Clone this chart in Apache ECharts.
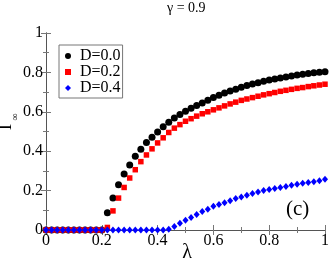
<!DOCTYPE html>
<html>
<head>
<meta charset="utf-8">
<script src="https://cdn.jsdelivr.net/npm/echarts@6/dist/echarts.min.js"></script>
<style>html,body{margin:0;padding:0;background:#fff;}#c{width:332px;height:263px;}</style>
</head>
<body>
<div id="c"></div>
<script>
var lambdaVals = [0.00,0.02,0.04,0.06,0.08,0.10,0.12,0.14,0.16,0.18,0.20,0.22,0.24,0.26,0.28,0.30,0.32,0.34,0.36,0.38,0.40,0.42,0.44,0.46,0.48,0.50,0.52,0.54,0.56,0.58,0.60,0.62,0.64,0.66,0.68,0.70,0.72,0.74,0.76,0.78,0.80,0.82,0.84,0.86,0.88,0.90,0.92,0.94,0.96,0.98,1.00];
var seriesNames = ['D=0.0','D=0.2','D=0.4'];
var d00 = [0,0,0,0,0,0,0,0,0,0,0,
  0.088,0.162,0.230,0.284,0.330,0.374,0.410,0.444,0.471,0.497,
  0.524,0.547,0.568,0.586,0.603,0.618,0.632,0.645,0.658,0.672,
  0.684,0.695,0.705,0.715,0.725,0.733,0.741,0.748,0.755,0.761,
  0.767,0.772,0.777,0.782,0.787,0.791,0.795,0.798,0.801,0.803];
var d02 = [0,0,0,0,0,0,0,0,0,0,0,
  0.013,0.097,0.162,0.216,0.264,0.306,0.347,0.381,0.412,0.442,
  0.468,0.495,0.517,0.535,0.552,0.565,0.578,0.590,0.600,0.610,
  0.620,0.630,0.640,0.649,0.658,0.665,0.672,0.679,0.686,0.692,
  0.698,0.704,0.709,0.714,0.719,0.723,0.728,0.732,0.736,0.740];
var d04 = [0,0,0,0,0,0,0,0,0,0,0,0,0,0,0,0,0,0,0,0,0,0,
  0.004,0.018,0.034,0.050,0.064,0.079,0.094,0.105,0.120,0.130,
  0.138,0.148,0.160,0.167,0.176,0.185,0.193,0.201,0.206,0.211,
  0.216,0.221,0.227,0.232,0.237,0.241,0.245,0.250,0.257];
var xTicks = ['0','0.2','0.4','0.6','0.8','1'];
var yTicks = ['0','0.2','0.4','0.6','0.8','1'];

function pairs(vals){ return vals.map(function(v,i){ return [lambdaVals[i], v]; }); }
var serif = 'Liberation Serif';
var chart = echarts.init(document.getElementById('c'), null, {renderer:'canvas'});
var baseAxis = {
  min:0, max:1, interval:0.2,
  axisLine:{show:true, lineStyle:{color:'#555', width:1}},
  axisTick:{show:true, inside:true, length:5, lineStyle:{color:'#777'}},
  minorTick:{show:true, splitNumber:2, length:3, lineStyle:{color:'#777'}},
  splitLine:{show:false}
};
chart.setOption({
  animation:false,
  backgroundColor:'#fff',
  textStyle:{fontFamily:serif},
  grid:{left:46, right:5, top:33, bottom:33},
  legend:{
    orient:'vertical', left:59, top:45,
    data:seriesNames,
    itemWidth:6, itemHeight:6, itemGap:0,
    padding:[3,2,2,6],
    borderColor:'#777', borderWidth:1,
    textStyle:{fontFamily:serif, fontSize:16, color:'#000', lineHeight:14, padding:[0,0,0,4]}
  },
  xAxis:[
    Object.assign({}, baseAxis, {type:'value', position:'bottom',
      axisLabel:{show:true, fontFamily:serif, fontSize:16, color:'#000', margin:3,
        formatter:function(v){ return xTicks[Math.round(v/0.2)]; }}}),
    Object.assign({}, baseAxis, {type:'value', position:'top', axisLabel:{show:false}})
  ],
  yAxis:[
    Object.assign({}, baseAxis, {type:'value', position:'left',
      axisLabel:{show:true, fontFamily:serif, fontSize:16, color:'#000', margin:3,
        formatter:function(v){ return yTicks[Math.round(v/0.2)]; }}}),
    Object.assign({}, baseAxis, {type:'value', position:'right', axisLabel:{show:false}})
  ],
  graphic:[
    {type:'text', left:167, top:1, style:{text:'γ = 0.9', font:'14px '+serif, fill:'#000'}},
    {type:'text', left:286, top:199, style:{text:'(c)', font:'21px '+serif, fill:'#000'}},
    {type:'text', x:187, y:253, style:{text:'λ', font:'20px '+serif, fill:'#000', align:'center', verticalAlign:'middle'}},
    {type:'text', x:6, y:127, rotation:Math.PI/2, style:{text:'I', font:'19px '+serif, fill:'#000', align:'center', verticalAlign:'middle'}},
    {type:'text', x:15, y:117, rotation:Math.PI/2, style:{text:'∞', font:'10px '+serif, fill:'#000', align:'center', verticalAlign:'middle'}}
  ],
  series:[
    {name:seriesNames[0], type:'scatter', symbol:'circle', symbolSize:7, itemStyle:{color:'#000', opacity:1}, data:pairs(d00)},
    {name:seriesNames[1], type:'scatter', symbol:'rect', symbolSize:5.5, itemStyle:{color:'#ff0000', opacity:1}, data:pairs(d02)},
    {name:seriesNames[2], type:'scatter', symbol:'diamond', symbolSize:[6,7], itemStyle:{color:'#0000ff', opacity:1}, data:pairs(d04)}
  ]
});
</script>
</body>
</html>
